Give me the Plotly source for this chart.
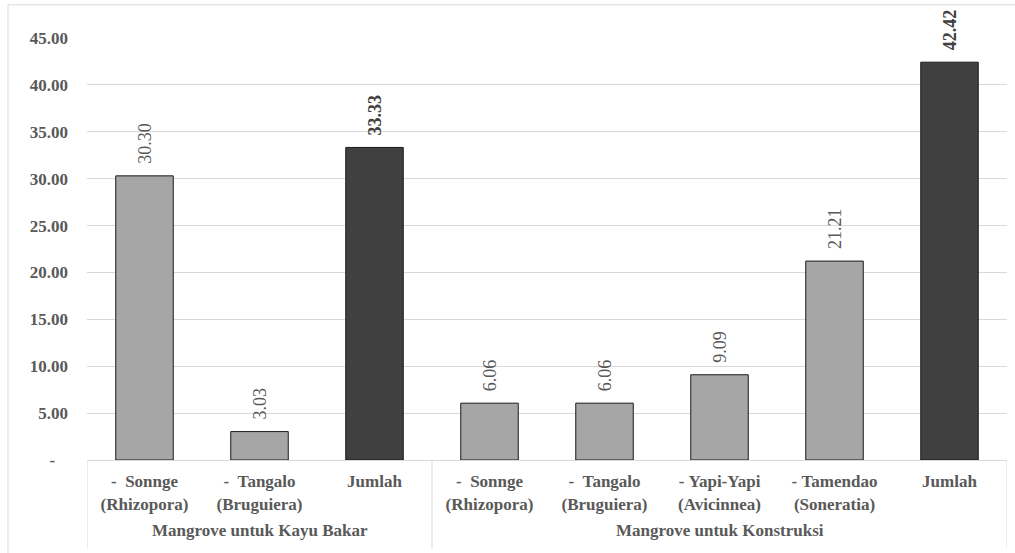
import plotly.graph_objects as go

# Usage groups and the species shown under each group
group_names = ["Mangrove untuk Kayu Bakar", "Mangrove untuk Konstruksi"]
group_sizes = [3, 5]
species = [
    "-\u00a0\u00a0Sonnge<br>(Rhizopora)", "-\u00a0\u00a0Tangalo<br>(Bruguiera)", "Jumlah",
    "-\u00a0\u00a0Sonnge<br>(Rhizopora)", "-\u00a0\u00a0Tangalo<br>(Bruguiera)",
    "-\u00a0Yapi-Yapi<br>(Avicinnea)", "-\u00a0Tamendao<br>(Soneratia)", "Jumlah",
]
values = [30.30, 3.03, 33.33, 6.06, 6.06, 9.09, 21.21, 42.42]
is_total = [False, False, True, False, False, False, False, True]

y_tickvals = [0, 5, 10, 15, 20, 25, 30, 35, 40, 45]
y_ticktext = ["-\u00a0\u00a0\u00a0", "5.00", "10.00", "15.00", "20.00", "25.00",
              "30.00", "35.00", "40.00", "45.00"]

FONT = "Times New Roman, Liberation Serif, serif"
TEXT_GRAY = "#595959"
GRID = "#d9d9d9"

positions = list(range(len(values)))
bar_colors = ["#404040" if t else "#a6a6a6" for t in is_total]
label_colors = ["#404040" if t else TEXT_GRAY for t in is_total]
label_tmpl = ["\u00a0\u00a0<b>%{y:.2f}</b>" if t else "\u00a0\u00a0%{y:.2f}" for t in is_total]

fig = go.Figure(
    go.Bar(
        x=positions,
        y=values,
        marker=dict(color=bar_colors, line=dict(color="#1a1a1a", width=1)),
        texttemplate=label_tmpl,
        textposition="outside",
        textangle=-90,
        constraintext="none",
        cliponaxis=False,
        textfont=dict(family=FONT, size=18, color=label_colors),
        hoverinfo="skip",
    )
)

# group boundaries on the category scale
bounds = [-0.5]
for n in group_sizes:
    bounds.append(bounds[-1] + n)

DIV_BOTTOM = -0.2085  # paper units below the axis where dividers end
shapes = [
    dict(type="line", xref="x", yref="paper", x0=b, x1=b, y0=0, y1=DIV_BOTTOM,
         line=dict(color=GRID, width=1))
    for b in bounds
]
# chart frame (left and top edges)
shapes.append(
    dict(type="path", xref="paper", yref="paper",
         path="M -0.0859,-0.3 L -0.0859,1.0785 L 1.02,1.0785",
         line=dict(color=GRID, width=1))
)

annotations = [
    dict(
        text=f"<b>{name}</b>",
        x=(bounds[i] + bounds[i + 1]) / 2,
        xref="x",
        y=-0.167,
        yref="paper",
        xanchor="center",
        yanchor="middle",
        showarrow=False,
        font=dict(family=FONT, size=17, color=TEXT_GRAY),
    )
    for i, name in enumerate(group_names)
]

fig.update_layout(
    width=1015,
    height=553,
    margin=dict(l=87, r=8, t=38, b=93),
    paper_bgcolor="white",
    plot_bgcolor="white",
    bargap=0.5,
    showlegend=False,
    font=dict(family=FONT, color=TEXT_GRAY),
    xaxis=dict(
        range=[-0.5, len(values) - 0.5],
        tickvals=positions,
        ticktext=species,
        showline=True,
        linecolor=GRID,
        linewidth=1,
        showgrid=False,
        zeroline=False,
        ticks="",
        ticklabelstandoff=6,
        tickfont=dict(family=FONT, size=17, color=TEXT_GRAY, weight="bold"),
    ),
    yaxis=dict(
        range=[0, 45],
        tickvals=y_tickvals,
        ticktext=y_ticktext,
        showgrid=True,
        gridcolor=GRID,
        gridwidth=1,
        zeroline=False,
        showline=False,
        ticks="",
        ticklabelstandoff=18,
        tickfont=dict(family=FONT, size=17, color=TEXT_GRAY, weight="bold"),
    ),
    shapes=shapes,
    annotations=annotations,
)

fig.write_html("out.html")
